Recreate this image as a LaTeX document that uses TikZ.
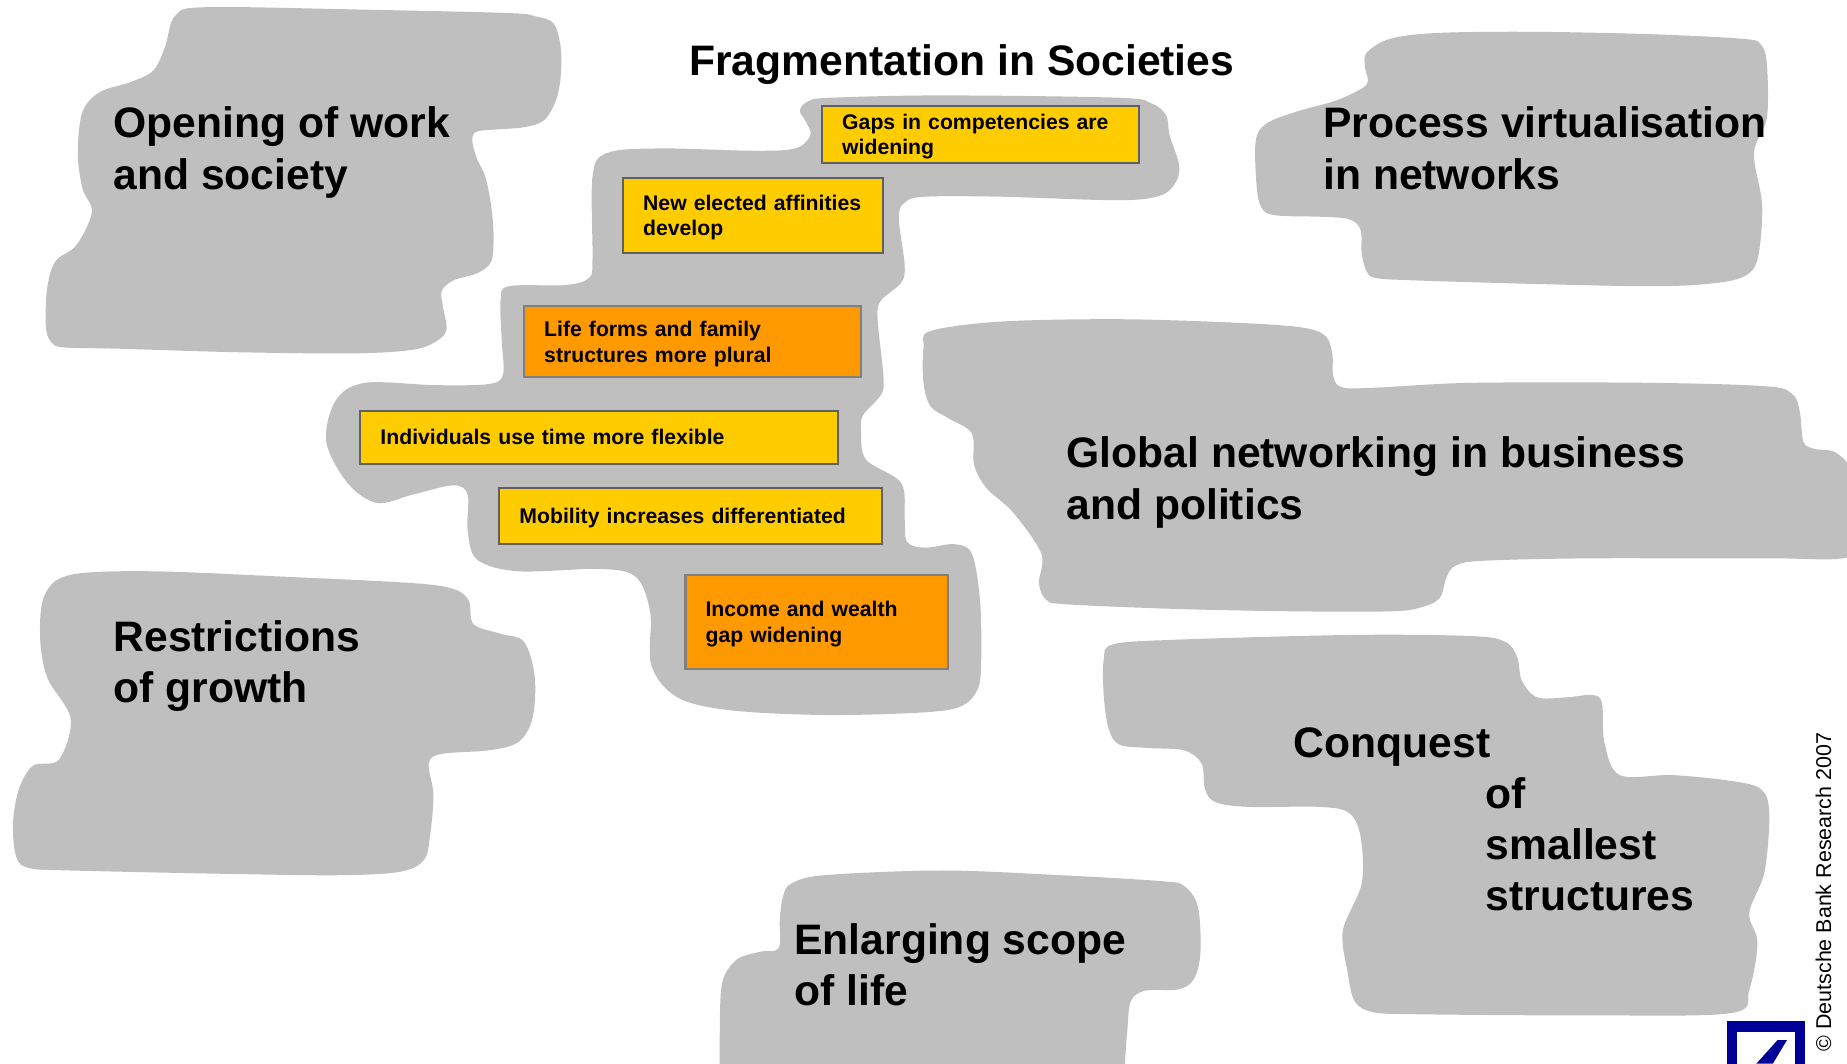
\documentclass[tikz,border=0pt]{standalone}
\usepackage{fontspec}
\setmainfont{Liberation Sans}
\definecolor{blobgray}{HTML}{BFBFBF}
\definecolor{boxyellow}{HTML}{FFCC00}
\definecolor{boxorange}{HTML}{FF9900}
\definecolor{logoblue}{HTML}{000099}
\begin{document}
\begin{tikzpicture}
		[x=0.5pt,y=-0.5pt,
		myblob/.style={fill=blobgray,draw=none},
		mybox/.style={anchor=center,align=left,inner xsep=8.5pt,inner ysep=0pt,text depth=11pt,font=\fontsize{9}{10.9}\selectfont\bfseries},
		yellowbox/.style={mybox,fill=boxyellow,draw={rgb,255:red,96;green,96;blue,96},line width=0.85pt},
		orangebox/.style={mybox,fill=boxorange,draw=gray,line width=1pt},
		bigtext/.style={anchor=north west,align=left,inner sep=0pt,font=\fontsize{18.1}{21.75}\selectfont\bfseries},]
		\useasboundingbox (0,0) rectangle (1568,903);
		\clip (0,0) rectangle (1568,903);
		% opening
		\fill[myblob] plot[smooth cycle,tension=0.55] coordinates {(150,12)(160,7)(200,6)(300,8)(430,11)(455,14)(470,20)(476,40)(476,65)(472,85)(462,102)(445,108)(420,110)(404,112)(401,120)(405,135)(412,150)(417,175)(419,200)(417,222)(405,232)(385,238)(375,247)(376,260)(379,280)(370,290)(350,297)(300,300)(200,299)(100,296)(55,295)(44,291)(39,278)(40,245)(47,222)(65,208)(78,180)(70,160)(66,130)(70,95)(85,78)(110,70)(130,60)(140,40)(145,20)};
		% process
		\fill[myblob] plot[smooth cycle,tension=0.55] coordinates {(1160,45)(1180,33)(1220,28)(1300,27)(1400,29)(1480,33)(1495,38)(1500,55)(1500,100)(1489,130)(1496,175)(1492,220)(1480,235)(1450,241)(1400,243)(1300,241)(1200,238)(1168,236)(1160,230)(1156,215)(1155,195)(1145,186)(1120,184)(1085,183)(1072,178)(1067,160)(1066,120)(1075,105)(1100,95)(1135,85)(1160,72)(1159,58)};
		% centre
		\fill[myblob] plot[smooth cycle,tension=0.55] coordinates {(705,83)(800,81)(950,83)(978,88)(990,98)(993,115)(1001,140)(998,155)(985,166)(950,170)(850,167)(785,167)(768,172)(763,185)(768,225)(765,240)(748,255)(745,270)(750,320)(748,335)(733,352)(731,365)(735,390)(765,410)(768,440)(770,460)(785,465)(810,462)(825,470)(832,510)(833,560)(830,585)(815,600)(780,605)(700,607)(620,603)(575,592)(553,565)(552,520)(540,490)(510,483)(440,485)(405,475)(397,450)(397,420)(385,412)(350,420)(320,427)(295,410)(277,375)(285,340)(310,325)(370,327)(415,326)(427,318)(426,290)(425,255)(432,243)(480,242)(500,236)(503,220)(503,150)(515,130)(560,126)(640,128)(675,126)(688,115)(684,103)(679,94)(686,86)};
		% global
		\fill[myblob] plot[smooth cycle,tension=0.55] coordinates {(790,281)(850,273)(950,271)(1050,274)(1105,278)(1125,285)(1131,300)(1132,320)(1140,329)(1170,329)(1250,325)(1400,325)(1500,328)(1522,335)(1528,350)(1531,375)(1540,381)(1558,384)(1572,400)(1580,440)(1572,472)(1500,474)(1350,474)(1260,476)(1236,480)(1228,490)(1222,508)(1205,516)(1180,519)(1100,519)(1000,517)(905,513)(888,509)(882,495)(884,470)(860,435)(838,415)(827,395)(825,368)(805,355)(790,345)(784,325)(784,295)};
		% conquest
		\fill[myblob] plot[smooth cycle,tension=0.55] coordinates {(945,547)(1000,543)(1150,539)(1250,540)(1278,545)(1288,558)(1292,578)(1305,592)(1330,592)(1352,590)(1360,597)(1362,630)(1375,658)(1420,658)(1470,663)(1495,670)(1502,690)(1498,740)(1485,775)(1492,800)(1485,840)(1470,860)(1350,862)(1200,861)(1165,859)(1150,850)(1144,825)(1140,790)(1156,750)(1155,710)(1145,690)(1120,685)(1060,685)(1032,681)(1023,670)(1020,648)(1005,637)(975,635)(950,632)(941,618)(937,590)(937,560)};
		% restrictions
		\fill[myblob] plot[smooth cycle,tension=0.55] coordinates {(60,488)(130,485)(250,490)(350,495)(385,500)(398,510)(402,530)(425,538)(445,545)(454,575)(452,610)(440,630)(415,637)(375,640)(364,648)(368,675)(365,710)(360,730)(340,740)(290,743)(200,742)(60,739)(25,737)(14,728)(11,700)(16,670)(28,650)(50,645)(60,610)(40,575)(34,540)(38,505)};
		% enlarging
		\fill[myblob] plot[smooth cycle,tension=0.55] coordinates {(672,750)(700,743)(800,739)(900,743)(985,748)(1005,752)(1017,770)(1019,810)(1013,832)(1000,840)(972,841)(960,850)(957,875)(955,903)(955,920)(955,940)(611,940)(611,920)(611,880)(613,835)(625,815)(645,808)(661,805)(662,780)(665,760)};
		% logo
		\fill[logoblue] (1466,867) rectangle (1532,903);
		\fill[white] (1475,876) rectangle (1524,903);
		\fill[logoblue] (1509,883) -- (1517,883) -- (1505,903) -- (1491,903) -- cycle;
		\node[anchor=base,font=\fontsize{18.1}{21}\selectfont\bfseries,inner sep=0pt,name=title] at (816.5,64) {Fragmentation in Societies};
		\node[yellowbox,text width=117.5pt,minimum height=24pt,name=gaps] at (832.5,114) {Gaps in competencies are\\widening};
		\node[yellowbox,text width=93.5pt,minimum height=32pt,name=affinities] at (639.5,183) {New elected affinities\\develop};
		\node[orangebox,text width=126pt,minimum height=30pt,name=life] at (588,290) {Life forms and family\\structures more plural};
		\node[yellowbox,text width=185.5pt,minimum height=22.5pt,text depth=1pt,name=time] at (508.5,371.5) {Individuals use time more flexible};
		\node[yellowbox,text width=145.5pt,minimum height=24pt,text depth=0pt,name=mobility] at (586.5,438) {Mobility increases differentiated};
		\node[orangebox,text width=94.5pt,minimum height=40pt,name=income] at (693.5,528) {Income and wealth\\gap widening};
		\node[bigtext,name=opening] at (96,90.5) {Opening of work\\and society};
		\node[bigtext,name=virtual] at (1123,90.5) {Process virtualisation\\in networks};
		\node[bigtext,name=global] at (905,370.5) {Global networking in business\\and politics};
		\node[bigtext,name=growth] at (96,526.5) {Restrictions\\of growth};
		\node[bigtext,name=conquest] at (1098,617) {Conquest\\\hspace*{81.5pt}of\\\hspace*{81.5pt}smallest\\\hspace*{81.5pt}structures};
		\node[bigtext,name=scope] at (674,783.5) {Enlarging scope\\of life};
		\node[rotate=90,anchor=west,inner sep=0pt,font=\fontsize{9.1}{11}\selectfont,name=copyright] at (1548,893) {© Deutsche Bank Research 2007};
	\end{tikzpicture}
\end{document}
